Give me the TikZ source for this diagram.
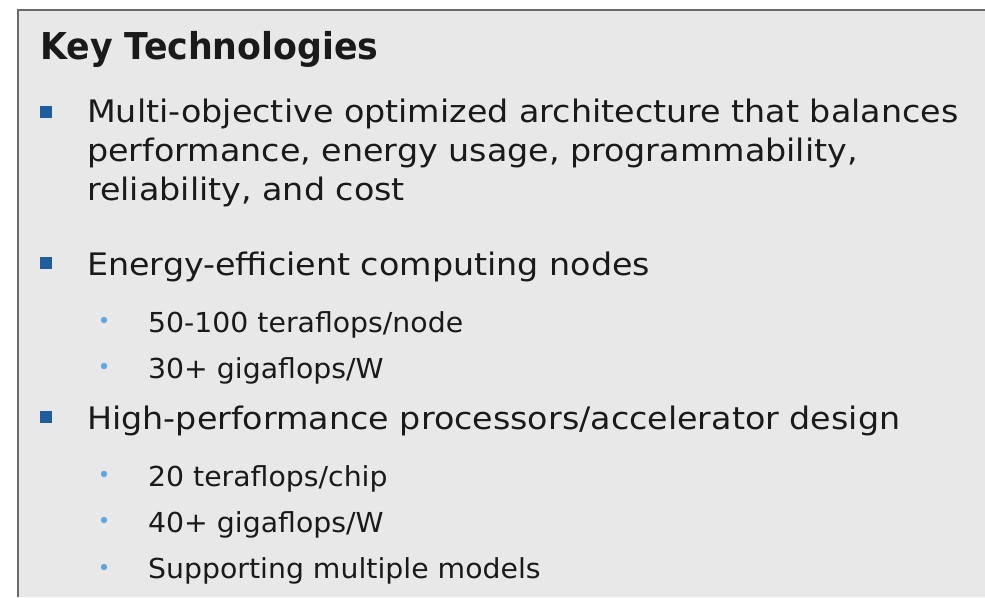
\documentclass[tikz,border=0pt]{standalone}
\usepackage{fontspec}
\setmainfont[FakeStretch=1.075]{DejaVu Sans}
\newfontfamily\headfont[FakeStretch=0.94]{DejaVu Sans}
\newfontfamily\subfont[FakeStretch=1.03]{DejaVu Sans}
\definecolor{panelfill}{HTML}{E8E8E8}
\definecolor{panelline}{HTML}{6A6A6A}
\definecolor{bulletblue}{HTML}{1F5D9E}
\definecolor{dotblue}{HTML}{62A8E0}
\definecolor{ink}{HTML}{1A1A1A}
\tikzset{
  txt/.style={anchor=base west, inner sep=0pt, text=ink},
  headtxt/.style={txt, font=\headfont\bfseries\fontsize{37}{44}\selectfont},
  lvlone/.style={txt, font=\fontsize{31}{37}\selectfont},
  lvltwo/.style={txt, font=\subfont\fontsize{27.5}{33}\selectfont},
  sqbullet/.style={fill=bulletblue, inner sep=0pt, minimum size=11.5pt, draw=none},
  dotbullet/.style={circle, fill=dotblue, inner sep=0pt, minimum size=6.5pt, draw=none}
}
\begin{document}
\begin{tikzpicture}[x=1pt,y=-1pt]
\useasboundingbox (0,0) rectangle (985,597);
% panel
\fill[panelfill] (18,10) rectangle (985,597);
\draw[panelline, line width=2.5pt] (18,597) -- (18,10) -- (985,10);

% heading
\node[headtxt] (title) at (40,59) {Key Technologies};

% first item
\node[sqbullet] (q1) at (46,112) {};
\node[lvlone] (l1a) at (87,122) {Multi-objective optimized architecture that balances};
\node[lvlone] (l1b) at (87,161) {performance, energy usage, programmability,};
\node[lvlone] (l1c) at (87,200) {reliability, and cost};

% second item
\node[sqbullet] (q2) at (46,263) {};
\node[lvlone] (l2) at (87,275) {Energy-efficient computing nodes};
\node[dotbullet] (d21) at (104,320) {};
\node[lvltwo] (l21) at (148,332) {50-100 teraflops/node};
\node[dotbullet] (d22) at (104,366) {};
\node[lvltwo] (l22) at (148,378) {30+ gigaflops/W};

% third item
\node[sqbullet] (q3) at (46,417) {};
\node[lvlone] (l3) at (87,429) {High-performance processors/accelerator design};
\node[dotbullet] (d31) at (104,474) {};
\node[lvltwo] (l31) at (148,486) {20 teraflops/chip};
\node[dotbullet] (d32) at (104,520) {};
\node[lvltwo] (l32) at (148,532) {40+ gigaflops/W};
\node[dotbullet] (d33) at (104,567) {};
\node[lvltwo] (l33) at (148,578) {Supporting multiple models};
\end{tikzpicture}
\end{document}
